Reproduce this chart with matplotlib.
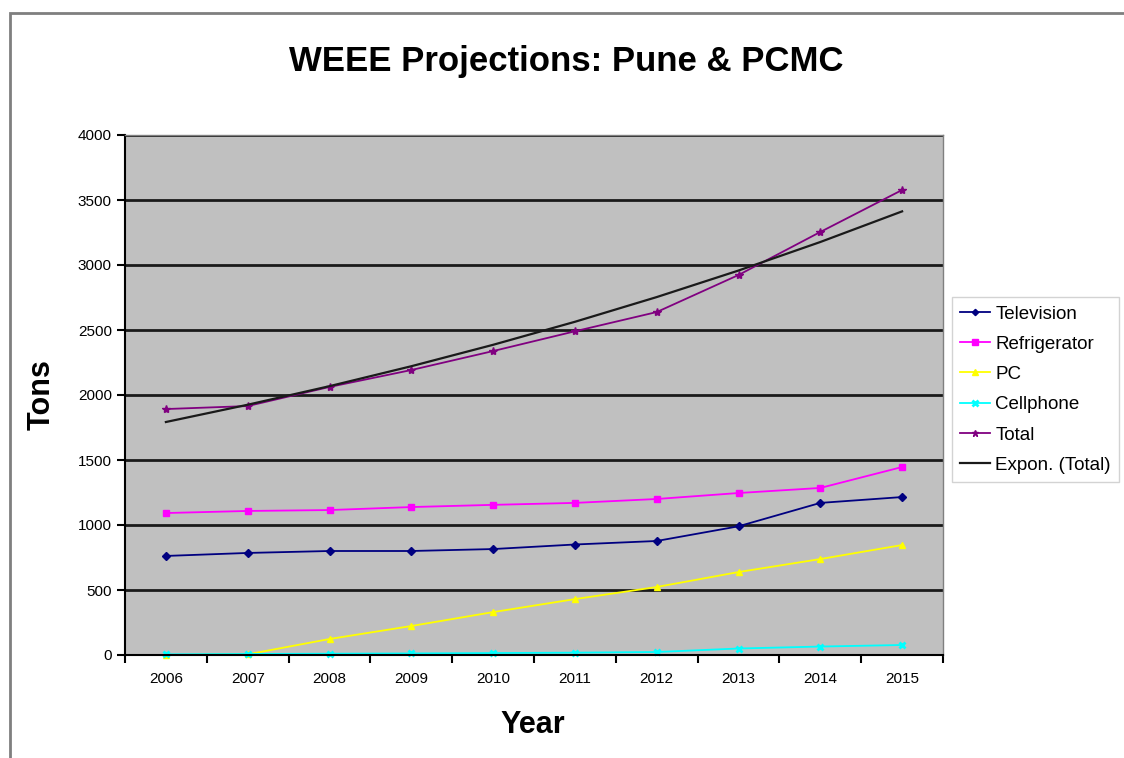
import numpy as np
import matplotlib
matplotlib.use("Agg")
import matplotlib.pyplot as plt
from matplotlib.patches import Rectangle

plt.rcParams['font.family'] = ['Liberation Sans', 'DejaVu Sans']

years = ['2006', '2007', '2008', '2009', '2010', '2011', '2012', '2013', '2014', '2015']
television = [762, 785, 800, 800, 815, 850, 877, 990, 1170, 1215]
refrigerator = [1092, 1108, 1115, 1138, 1155, 1170, 1200, 1246, 1285, 1446]
pc = [0, 5, 123, 223, 330, 430, 523, 638, 738, 846]
cellphone = [5, 8, 10, 12, 15, 18, 23, 50, 65, 77]
total = [1892, 1915, 2062, 2192, 2338, 2490, 2638, 2923, 3254, 3577]

x = np.arange(len(years))

# exponential trendline fitted on log(total), like the spreadsheet "Expon." fit
b, ln_a = np.polyfit(x, np.log(total), 1)
trend = np.exp(ln_a) * np.exp(b * x)

fig = plt.figure(figsize=(11.24, 7.58), dpi=100)
fig.patches.append(Rectangle((10 / 1124, -0.05), 1.1, 1 - 13 / 758 + 0.05,
                             transform=fig.transFigure, fill=False,
                             edgecolor='#7f7f7f', linewidth=2))

ax = fig.add_axes([125 / 1124, 1 - 655 / 758, (943 - 125) / 1124, (655 - 135) / 758])
ax.set_facecolor('#c0c0c0')

ax.plot(x, television, color='#000080', marker='D', ms=4, lw=1.3, label='Television', clip_on=False)
ax.plot(x, refrigerator, color='#ff00ff', marker='s', ms=5, lw=1.3, label='Refrigerator')
ax.plot(x, pc, color='#ffff00', marker='^', ms=5, lw=1.3, label='PC', clip_on=False)
ax.plot(x, cellphone, color='#00ffff', marker='x', ms=5, mew=2, lw=1.3, label='Cellphone', clip_on=False)
ax.plot(x, total, color='#800080', marker='*', ms=6, lw=1.3, label='Total')
ax.plot(x, trend, color='#1a1a1a', lw=1.6, label='Expon. (Total)')

ax.set_xlim(-0.5, 9.5)
ax.set_ylim(0, 4000)
ax.set_yticks(np.arange(0, 4001, 500))
ax.yaxis.grid(True, color='#1a1a1a', lw=2)
ax.set_axisbelow(True)

# ticks between categories, labels centred on each year
ax.set_xticks(np.arange(-0.5, 10, 1))
ax.set_xticklabels([])
ax.set_xticks(x, minor=True)
ax.set_xticklabels(years, minor=True)
ax.tick_params(axis='x', which='major', length=6, width=1.5, direction='out')
ax.tick_params(axis='x', which='minor', length=0, pad=12, labelsize=11)
ax.tick_params(axis='y', length=6, width=1.5, labelsize=11)

for side in ['left', 'bottom']:
    ax.spines[side].set_color('black')
    ax.spines[side].set_linewidth(1.5)
for side in ['top', 'right']:
    ax.spines[side].set_color('#808080')
    ax.spines[side].set_linewidth(1)

fig.text(566 / 1124, 1 - 62 / 758, 'WEEE Projections: Pune & PCMC', ha='center', va='center',
         fontsize=25, fontweight='bold')
fig.text(42 / 1124, 1 - 395 / 758, 'Tons', ha='center', va='center', rotation=90,
         fontsize=22, fontweight='bold')
fig.text(533 / 1124, 1 - 725 / 758, 'Year', ha='center', va='center',
         fontsize=22, fontweight='bold')

leg = fig.legend(loc='upper left', bbox_to_anchor=(952 / 1124, 1 - 297 / 758),
                 fontsize=13.5, frameon=True, fancybox=False, handlelength=1.6,
                 handletextpad=0.25, labelspacing=0.70, borderpad=0.45, borderaxespad=0,
                 markerscale=0.8)
leg.get_frame().set_edgecolor('#c8c8c8')
leg.get_frame().set_linewidth(1)

fig.savefig('out.png', dpi=100)
